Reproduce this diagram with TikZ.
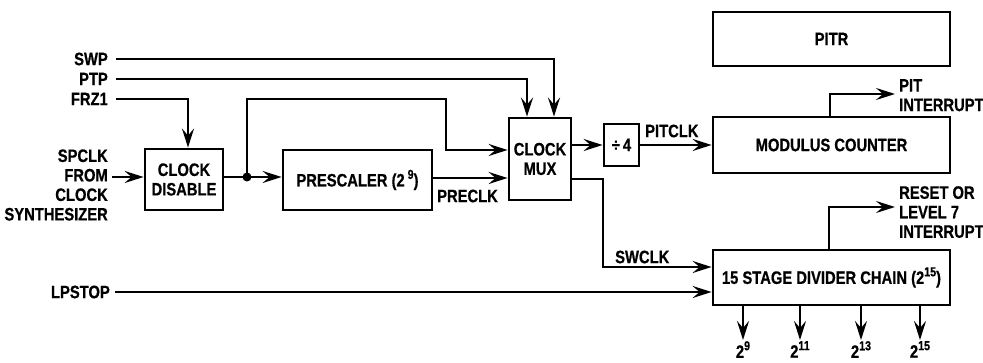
\documentclass[tikz,border=0pt]{standalone}
\usepackage{fontspec}
\setmainfont{Liberation Sans}[FakeStretch=0.82,BoldFeatures={FakeBold=0.6}]
\usetikzlibrary{arrows.meta}
\newcommand\supx[1]{\raisebox{0.42em}{\fontsize{13}{13}\selectfont #1}}
\begin{document}
\begin{tikzpicture}[x=1pt,y=-1pt,
  font=\fontsize{18}{19.5}\selectfont\bfseries,
  blk/.style={draw,line width=2.8pt,inner sep=0pt,align=center},
  wire/.style={line width=2.6pt},
  arr/.style={wire,-{Stealth[length=19pt,width=12pt,inset=7pt]}},
  lbl/.style={inner sep=0pt,align=left}]
\useasboundingbox (0,0) rectangle (983,363);
% boxes
\node[blk,minimum width=78pt,minimum height=61pt] (cd) at (184,179.5) {CLOCK\\DISABLE};
\node[blk,minimum width=149pt,minimum height=60pt] (pre) at (357.5,180) {PRESCALER (2\,\supx{9})};
\node[blk,minimum width=62pt,minimum height=82pt] (mux) at (540,159) {CLOCK\\MUX};
\node[blk,minimum width=35pt,minimum height=42pt] (div) at (621.5,145) {÷\,4};
\node[blk,minimum width=237pt,minimum height=54pt] (pitr) at (831.5,39) {PITR};
\node[blk,minimum width=237pt,minimum height=56pt] (mod) at (831.5,145) {MODULUS COUNTER};
\node[blk,minimum width=237pt,minimum height=55pt] (chain) at (831.5,277.5) {15 STAGE DIVIDER CHAIN (2\supx{15})};
% input labels
\node[lbl,anchor=east] (swp) at (108,59) {SWP};
\node[lbl,anchor=east] (ptp) at (108,79) {PTP};
\node[lbl,anchor=east] (frz) at (108,99) {FRZ1};
\node[lbl,anchor=east,align=right] (spclk) at (108,185) {SPCLK\\FROM\\CLOCK\\SYNTHESIZER};
\node[lbl,anchor=east] (lp) at (110,292) {LPSTOP};
% signal labels
\node[lbl,anchor=west] (preclk) at (437,196) {PRECLK};
\node[lbl,anchor=west] (pitclk) at (645,131) {PITCLK};
\node[lbl,anchor=west] (swclk) at (615,257) {SWCLK};
\node[lbl,anchor=north west] (pitint) at (899,79) {PIT\\INTERRUPT};
\node[lbl,anchor=north west] (reset) at (899,186) {RESET OR\\LEVEL 7\\INTERRUPT};
% coordinates
\coordinate (sp) at (112,177);
\coordinate (dot) at (247,177);
\coordinate (bend) at (446,99);
\coordinate (swc) at (603,267);
\coordinate (pitend) at (895,94);
\coordinate (resend) at (895,207);
% connectors
\draw[arr] ([xshift=8pt]swp.east) -| ([xshift=14pt]mux.north);
\draw[arr] ([xshift=8pt]ptp.east) -| ([xshift=-13pt]mux.north);
\draw[arr] ([xshift=8pt]frz.east) -| ([xshift=4pt]cd.north);
\draw[arr] (sp) -- (sp -| cd.west);
\draw[wire] (dot -| cd.east) -- (dot);
\fill (dot) circle (4.5pt);
\draw[arr] (dot) -- (dot -| pre.west);
\draw[arr] (dot) |- (bend) |- ([yshift=9pt]mux.west);
\draw[arr] ([yshift=2pt]pre.east) -- ([yshift=2pt]pre.east -| mux.west);
\draw[arr] (div.west -| mux.east) -- (div.west);
\draw[arr] (div.east) -- (div.east -| mod.west);
\draw[arr] ([yshift=-20pt]mux.east) -| (swc) -- (swc -| chain.west);
\draw[arr] ([xshift=5pt]lp.east) -- (lp.east -| chain.west);
\draw[arr] ([xshift=-1.5pt]mod.north) |- (pitend);
\draw[arr] ([xshift=-2.5pt]chain.north) |- (resend);
% outputs
\foreach \xx/\ee [count=\i] in {743/9,800/11,861/13,920/15}{
  \coordinate (o\i) at (\xx,305);
  \draw[arr] (o\i) -- ++(0,35) coordinate (t\i);
  \node[lbl,anchor=north] (n\i) at ([yshift=-1pt]t\i) {2\supx{\ee}};
}
\end{tikzpicture}
\end{document}
